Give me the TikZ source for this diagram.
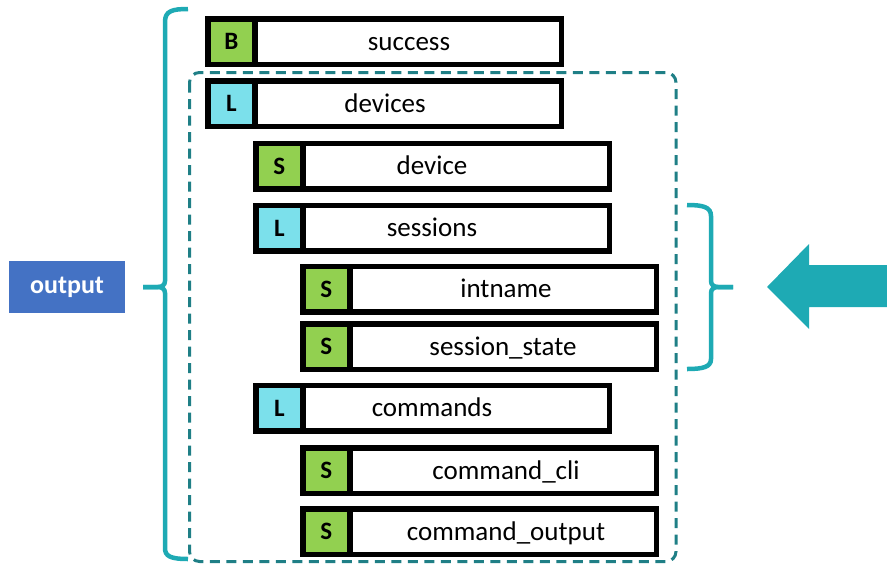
\documentclass[tikz,border=0pt]{standalone}
\usepackage{fontspec}
\setmainfont{Carlito}
\definecolor{sgreen}{HTML}{92D050}
\definecolor{lcyan}{HTML}{7BE0EB}
\definecolor{dteal}{HTML}{1F7F86}
\definecolor{lteal}{HTML}{1EAAB4}
\definecolor{obox}{HTML}{4472C4}
\begin{document}
\begin{tikzpicture}[x=1pt,y=-1pt,
  box/.style={draw=black, line width=5.5pt, fill=white, inner sep=0pt, minimum width=353.5pt, minimum height=45.5pt},
  tagbox/.style={draw=black, line width=5.5pt, inner sep=0pt, minimum width=47.25pt, minimum height=45.5pt, font=\fontsize{25}{29}\selectfont\bfseries},
  lbl/.style={font=\fontsize{27}{32}\selectfont, inner sep=0pt, anchor=base},
  brace/.style={draw=lteal, line width=4.5pt},
  grp/.style={draw=dteal, line width=3pt, dash pattern=on 10pt off 6.5pt, rounded corners=10pt}]
\useasboundingbox (0,0) rectangle (887,563);
% left brace
\draw[brace] (188,9) .. controls (172,9) and (165,11) .. (165,22) -- (165,281)
  .. controls (165,285) and (162,287) .. (158,287) -- (143,287);
\draw[brace] (143,287) -- (158,287) .. controls (162,287) and (165,289) .. (165,293)
  -- (165,548) .. controls (165,556) and (170,559) .. (188,559);
% dashed group
\draw[grp] (189.5,72.5) rectangle (676,561.5);
% rows
\foreach \n/\xo/\yc/\col/\tg/\lab/\lx in {
 1/205/41.5/sgreen/B/success/409,
 2/205/103.5/lcyan/L/devices/385,
 3/253/166/sgreen/S/device/432,
 4/253/228/lcyan/L/sessions/432,
 5/300/289/sgreen/S/intname/506,
 6/300/346.5/sgreen/S/session\_state/503,
 7/253/408/lcyan/L/commands/432,
 8/300/470.5/sgreen/S/command\_cli/506,
 9/300/531.5/sgreen/S/command\_output/506}{
 \node[box] (row\n) at (\xo+179.5,\yc) {};
 \node[tagbox, fill=\col] (tag\n) at (\xo+26.4,\yc) {\tg};
 \node[lbl] (lab\n) at (\lx,\yc+8.5) {\lab};
}
% output box
\node[fill=obox, inner sep=0pt, minimum width=116pt, minimum height=52pt, text=white,
  font=\fontsize{26}{30}\selectfont\bfseries] (out) at (67,287) {output};
% right brace
\draw[brace] (687,205) .. controls (703,205) and (711,207) .. (711,216) -- (711,281)
  .. controls (711,285) and (714,287) .. (718,287) -- (733,287);
\draw[brace] (733,287) -- (718,287) .. controls (714,287) and (711,289) .. (711,293)
  -- (711,359) .. controls (711,367) and (703,369) .. (687,369);
% arrow
\fill[lteal] (767,287) -- (809,244) -- (809,265) -- (887,265) -- (887,307)
  -- (809,307) -- (809,329) -- cycle;
\end{tikzpicture}
\end{document}
